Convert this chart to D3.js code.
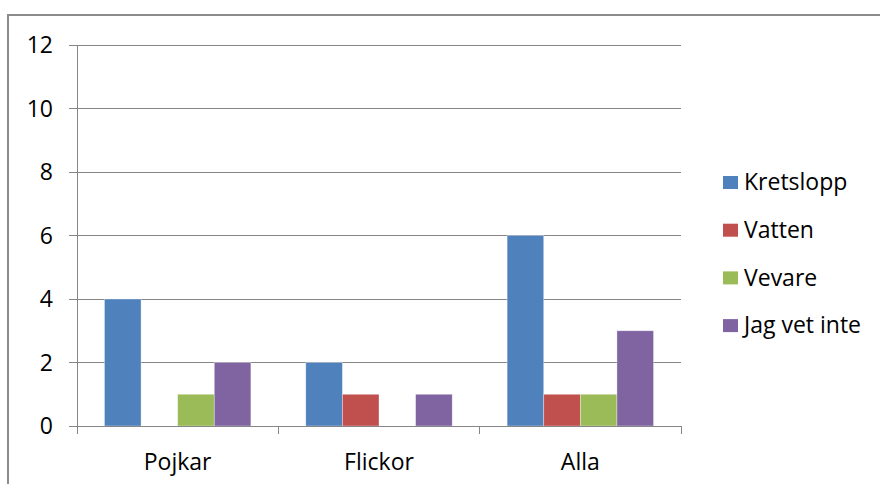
<!DOCTYPE html>
<html><head><meta charset="utf-8">
<script src="https://cdn.jsdelivr.net/npm/d3@7"></script>
<style>body{margin:0;background:#fff}svg{display:block}text{font-family:"Open Sans",sans-serif;fill:#000}</style>
</head><body><svg id="c" width="880" height="484"></svg>
<script>
const categories = ["Pojkar", "Flickor", "Alla"];
const seriesNames = ["Kretslopp", "Vatten", "Vevare", "Jag vet inte"];
const kretslopp = [4, 2, 6];
const vatten = [0, 1, 1];
const vevare = [1, 0, 1];
const jagVetInte = [2, 1, 3];
const yTicks = [0, 2, 4, 6, 8, 10, 12];
const colors = ["#4F81BD", "#C0504D", "#9BBB59", "#8064A2"];
const seriesValues = [kretslopp, vatten, vevare, jagVetInte];
const FS = 23;

const svg = d3.select("#c");
svg.append("rect").attr("x", 8).attr("y", 15).attr("width", 880).attr("height", 480)
  .attr("fill", "#fff").attr("stroke", "#8c8c8c").attr("stroke-width", 2);

const L = 77, R = 681, T = 45, B = 426;
const x0 = d3.scaleBand().domain(categories).range([L, R]).paddingInner(0).paddingOuter(0);
// Excel gap width 150%: group = 4w + 1.5w
const w = x0.bandwidth() / 5.5;
const y = d3.scaleLinear().domain([0, 12]).range([B, T]);

// gridlines
svg.append("g").selectAll("line").data(yTicks).join("line")
  .attr("x1", L - 8).attr("x2", R).attr("y1", d => y(d)).attr("y2", d => y(d))
  .attr("stroke", "#868686").attr("stroke-width", 1).attr("shape-rendering", "crispEdges");

// y axis labels
svg.append("g").selectAll("text").data(yTicks).join("text")
  .attr("x", 53).attr("y", d => y(d)).attr("dy", "0.36em").attr("text-anchor", "end")
  .attr("font-size", FS).text(d => d);

// y axis line
svg.append("line").attr("x1", L).attr("x2", L).attr("y1", T).attr("y2", B)
  .attr("stroke", "#868686").attr("shape-rendering", "crispEdges");

// bars
const groups = svg.append("g").selectAll("g").data(categories).join("g")
  .attr("transform", c => `translate(${x0(c)},0)`);
groups.selectAll("rect").data((c, i) => seriesValues.map((s, j) => ({ j, v: s[i] })))
  .join("rect")
  .attr("x", d => 0.75 * w + d.j * w)
  .attr("width", w)
  .attr("y", d => y(d.v))
  .attr("height", d => y(0) - y(d.v))
  .attr("fill", d => colors[d.j])
  .attr("stroke", d => d.v > 0 ? "rgba(255,255,255,0.5)" : "none").attr("stroke-width", 0.7);

// x axis
svg.append("line").attr("x1", L).attr("x2", R).attr("y1", B).attr("y2", B)
  .attr("stroke", "#868686").attr("shape-rendering", "crispEdges");
const ticksX = categories.map(c => x0(c)).concat([R]);
svg.append("g").selectAll("line").data(ticksX).join("line")
  .attr("x1", d => d).attr("x2", d => d).attr("y1", B).attr("y2", B + 8)
  .attr("stroke", "#868686").attr("shape-rendering", "crispEdges");
svg.append("g").selectAll("text").data(categories).join("text")
  .attr("x", c => x0(c) + x0.bandwidth() / 2).attr("y", 462).attr("dy", "0.36em")
  .attr("text-anchor", "middle").attr("font-size", FS).text(c => c);

// legend
const lg = svg.append("g").selectAll("g").data(seriesNames).join("g")
  .attr("transform", (d, i) => `translate(723,${182 + i * 47.7})`);
lg.append("rect").attr("x", 0).attr("y", -6).attr("width", 15).attr("height", 13)
  .attr("fill", (d, i) => colors[i]);
lg.append("text").attr("x", 21).attr("y", 0).attr("dy", "0.36em").attr("font-size", FS).text(d => d);
</script></body></html>
